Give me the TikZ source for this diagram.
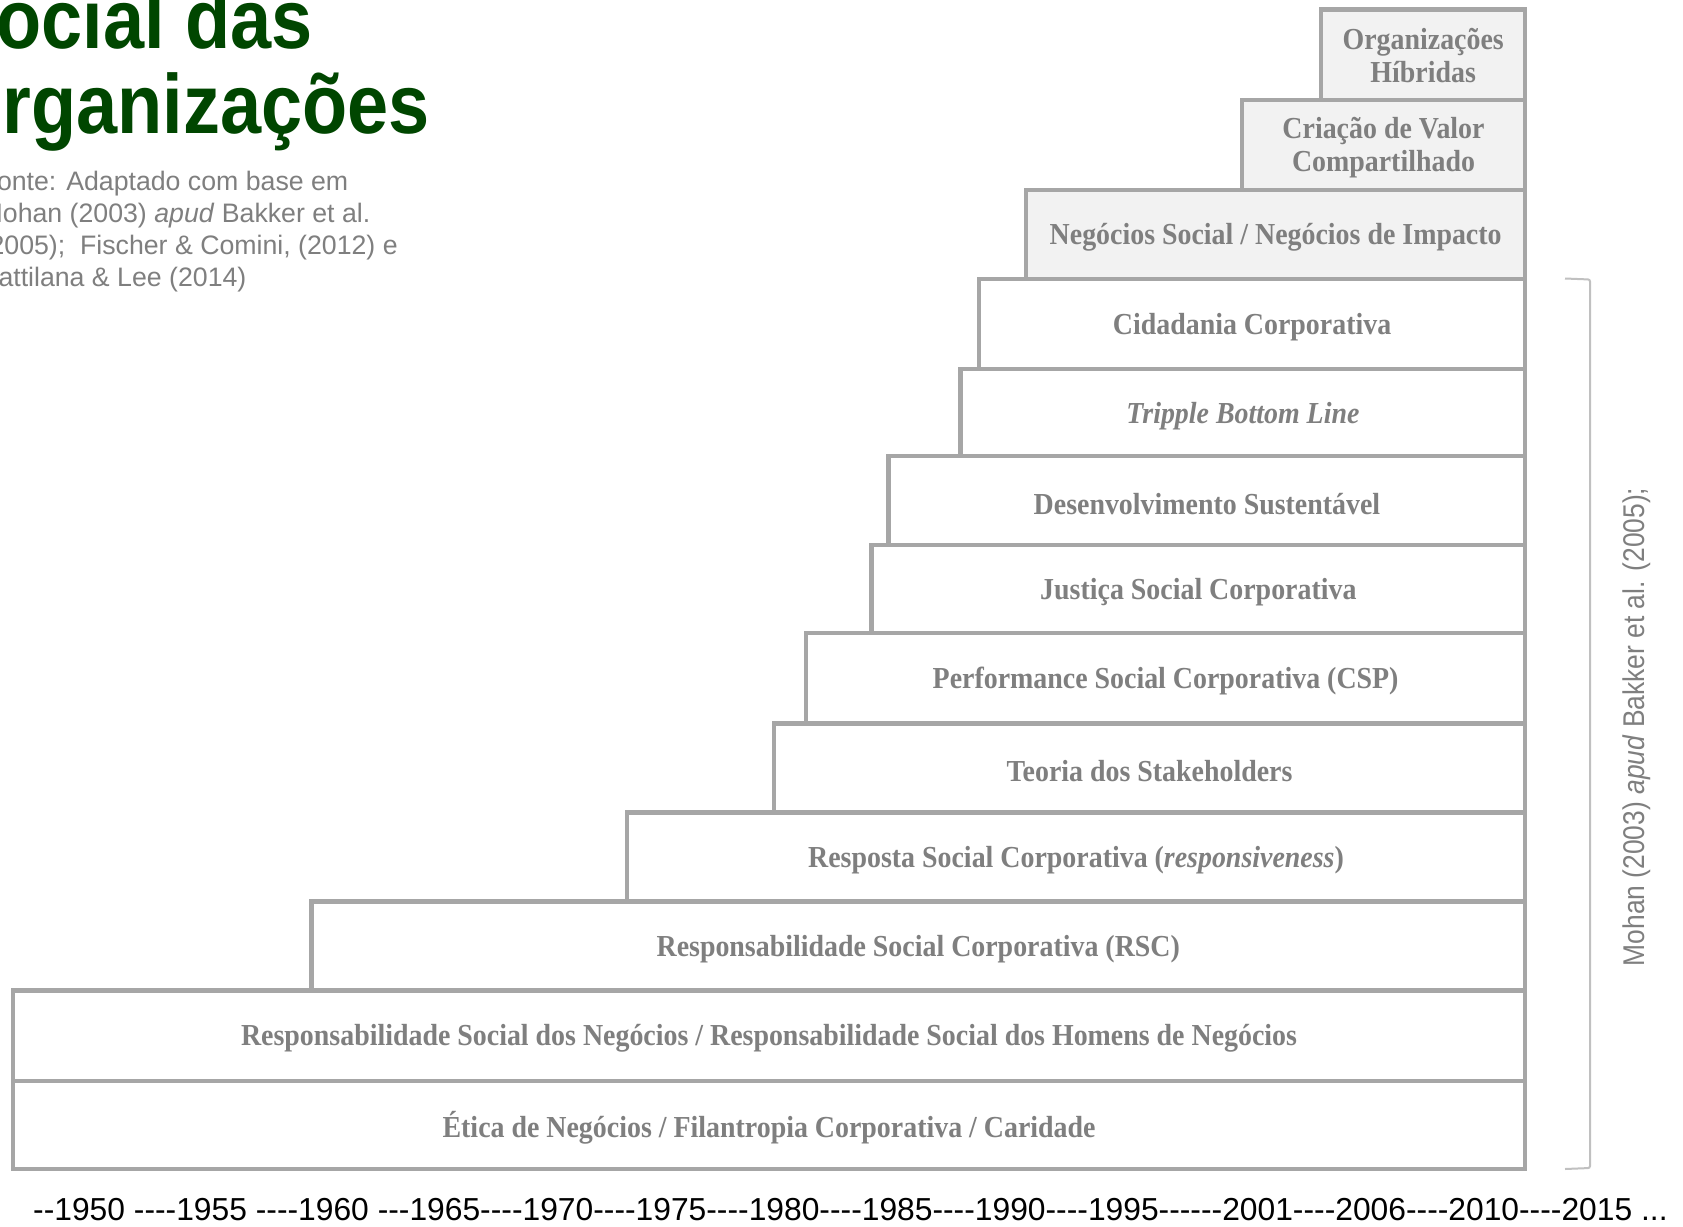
\documentclass[tikz,border=0pt]{standalone}
\usepackage{fontspec}
\setmainfont{Liberation Serif}
\newfontfamily\boxfont[FakeStretch=0.915]{Liberation Serif}
\newfontfamily\arialfont{Liberation Sans}
\newfontfamily\titlefont[FakeStretch=0.88]{Liberation Sans}
\newfontfamily\narrowfont[FakeStretch=0.88]{Liberation Sans}
\definecolor{framegray}{HTML}{A6A6A6}
\definecolor{labelgray}{HTML}{7F7F7F}
\definecolor{lightfill}{HTML}{F2F2F2}
\definecolor{bracketgray}{HTML}{C0C0C0}
\definecolor{titlegreen}{HTML}{004600}
\tikzset{
  stepbox/.style={draw=framegray, line width=4.5pt, fill=white, inner sep=0pt, outer sep=0pt,
    anchor=north west},
  newbox/.style={stepbox, fill=lightfill},
  steplabel/.style={inner sep=0pt, align=center, text=labelgray,
    font=\boxfont\bfseries\fontsize{30.5}{33}\selectfont},
  titletext/.style={inner sep=0pt, text=titlegreen, font=\titlefont\bfseries\fontsize{84}{88}\selectfont},
  srctext/.style={inner sep=0pt, anchor=base west, text=labelgray, font=\arialfont\fontsize{26.7}{32}\selectfont},
}
\begin{document}
\begin{tikzpicture}[x=1pt, y=-1pt]
\useasboundingbox (0,0) rectangle (1683,1226);
\clip (0,0) rectangle (1683,1226);
\fill[white] (0,0) rectangle (1683,1226);

% title and source
\node[titletext, anchor=base east] (title1) at (313,48) {Social das};
\node[titletext, anchor=base east] (title2) at (430,133) {Organizações};
\node[srctext] (src1) at (-19.5,190) {Fonte: Adaptado com base em};
\node[srctext] (src2) at (-19.5,222) {Mohan (2003) \textit{apud} Bakker et al.};
\node[srctext] (src3) at (-19.5,254) {(2005);\ \ Fischer \& Comini, (2012) e};
\node[srctext] (src4) at (-19.5,286) {Battilana \& Lee (2014)};

% staircase of concepts, bottom step first
\node[stepbox, minimum width=1512.3pt, minimum height=88.0pt] (eti) at (12.9,1080.8) {};
\node[stepbox, minimum width=1512.3pt, minimum height=90.1pt] (rsn) at (12.9,990.7) {};
\node[stepbox, minimum width=1213.9pt, minimum height=89.1pt] (rsc) at (311.3,901.6) {};
\node[stepbox, minimum width=898.4pt, minimum height=89.1pt] (res) at (626.8,812.5) {};
\node[stepbox, minimum width=751.4pt, minimum height=89.1pt] (sta) at (773.8,723.4) {};
\node[stepbox, minimum width=719.2pt, minimum height=90.2pt] (csp) at (806.0,633.2) {};
\node[stepbox, minimum width=653.7pt, minimum height=88.0pt] (jus) at (871.5,545.2) {};
\node[stepbox, minimum width=636.5pt, minimum height=89.0pt] (des) at (888.7,456.2) {};
\node[stepbox, minimum width=564.6pt, minimum height=87.0pt] (tbl) at (960.6,369.2) {};
\node[stepbox, minimum width=546.3pt, minimum height=90.1pt] (cid) at (978.9,279.1) {};
\node[newbox, minimum width=499.1pt, minimum height=89.1pt] (neg) at (1026.1,190.0) {};
\node[newbox, minimum width=283.4pt, minimum height=90.2pt] (crv) at (1241.8,99.8) {};
\node[newbox, minimum width=204.0pt, minimum height=90.1pt] (hib) at (1321.2,9.7) {};

% step labels
\node[steplabel] (etit) at ([yshift=-3pt]eti.center) {Ética de Negócios / Filantropia Corporativa / Caridade};
\node[steplabel] (rsnt) at ([yshift=-3pt]rsn.center) {Responsabilidade Social dos Negócios / Responsabilidade Social dos Homens de Negócios};
\node[steplabel] (rsct) at ([yshift=-3pt]rsc.center) {Responsabilidade Social Corporativa (RSC)};
\node[steplabel] (rest) at ([yshift=-3pt]res.center) {Resposta Social Corporativa (\textit{responsiveness})};
\node[steplabel] (stat) at ([yshift=-3pt]sta.center) {Teoria dos Stakeholders};
\node[steplabel] (cspt) at ([yshift=-3pt]csp.center) {Performance Social Corporativa (CSP)};
\node[steplabel] (just) at ([yshift=-3pt]jus.center) {Justiça Social Corporativa};
\node[steplabel] (dest) at ([yshift=-3pt]des.center) {Desenvolvimento Sustentável};
\node[steplabel] (tblt) at ([yshift=-3pt]tbl.center) {\textit{Tripple Bottom Line}};
\node[steplabel] (cidt) at ([yshift=-3pt]cid.center) {Cidadania Corporativa};
\node[steplabel] (negt) at ([yshift=-3pt]neg.center) {Negócios Social / Negócios de Impacto};
\node[steplabel] (crvt) at ([yshift=-3pt]crv.center) {Criação de Valor\\Compartilhado};
\node[steplabel] (hibt) at ([yshift=-1pt]hib.center) {Organizações\\Híbridas};

% bracket grouping the Mohan steps
\coordinate (brtop) at (1565,278.5);
\coordinate (brbot) at (1565,1169);
\draw[bracketgray, line width=2pt, rounded corners=2pt]
  (brtop) -- (1590,279.5) -- (1590,1168) -- (brbot);
\node[rotate=90, inner sep=0pt, text=labelgray, font=\narrowfont\fontsize{30}{32}\selectfont]
  (mohan) at (1637,727) {Mohan (2003) \textit{apud} Bakker et al. (2005);};

% time axis
\node[inner sep=0pt, anchor=base west, font=\arialfont\fontsize{31.8}{34}\selectfont] (axis) at (33,1220)
  {-{}-1950 -{}-{}-{}-1955 -{}-{}-{}-1960 -{}-{}-1965-{}-{}-{}-1970-{}-{}-{}-1975-{}-{}-{}-1980-{}-{}-{}-1985-{}-{}-{}-1990-{}-{}-{}-1995-{}-{}-{}-{}-{}-2001-{}-{}-{}-2006-{}-{}-{}-2010-{}-{}-{}-2015 ...};
\end{tikzpicture}
\end{document}
